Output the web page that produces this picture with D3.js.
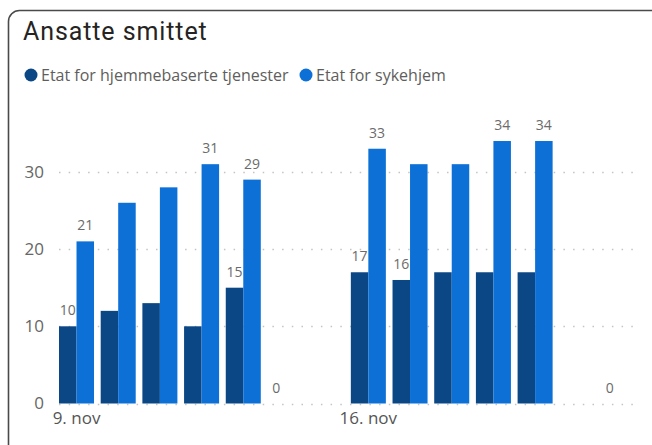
<!DOCTYPE html>
<html>
<head>
<meta charset="utf-8">
<script src="https://cdn.jsdelivr.net/npm/d3@7"></script>
<style>
  body { margin: 0; background: #fff; }
  svg { display: block; }
</style>
</head>
<body>
<div id="chart"></div>
<script>

// Data
var dates = ["2020-11-09", "2020-11-10", "2020-11-11", "2020-11-12", "2020-11-13", "2020-11-14", "2020-11-15",
	"2020-11-16", "2020-11-17", "2020-11-18", "2020-11-19", "2020-11-20", "2020-11-21", "2020-11-22"]

var hjemme = [10, 12, 13, 10, 15, 0, null, 17, 16, 17, 17, 17, null, 0]

var sykehjem = [21, 26, 28, 31, 29, 0, null, 33, 31, 31, 34, 34, null, 0]

// which data labels Power BI kept visible
var hjemmeLabel = [1, 0, 0, 0, 1, 1, 0, 1, 1, 0, 0, 0, 0, 1]

var sykehjemLabel = [1, 0, 0, 1, 1, 0, 0, 1, 0, 0, 1, 1, 0, 0]

var seriesNames = ["Etat for hjemmebaserte tjenester", "Etat for sykehjem"]

var yTicks = [0, 10, 20, 30]

var xTickDates = ["2020-11-09", "2020-11-16"]

var xTickLabels = ["9. nov", "16. nov"]

var colors = ["#0a4784", "#0c70d7"]

var width = 652

var height = 445

var svg = d3.select("#chart")
	.append("svg")
	.attr("width", width)
	.attr("height", height)

svg.append("rect")
	.attr("width", width)
	.attr("height", height)
	.attr("fill", "#fff")

// card border, cut off at the right and bottom
svg.append("rect")
	.attr("x", 8.5)
	.attr("y", 10.5)
	.attr("width", 680)
	.attr("height", 470)
	.attr("rx", 11)
	.attr("fill", "#fff")
	.attr("stroke", "#4a4a4a")
	.attr("stroke-width", 1.6)

svg.append("text")
	.attr("x", 23)
	.attr("y", 40)
	.attr("font-family", "Roboto, sans-serif")
	.attr("font-size", 25)
	.attr("letter-spacing", 0.9)
	.attr("fill", "#252423")
	.text("Ansatte smittet")

// legend
var legendX = [31, 306]

var legend = svg.append("g")
	.selectAll("g")
	.data(seriesNames)
	.join("g")
	.attr("transform", (d, i) => `translate(${legendX[i]},75)`)

legend.append("circle")
	.attr("r", 6.5)
	.attr("fill", (d, i) => colors[i])

legend.append("text")
	.attr("x", 10)
	.attr("y", 5.5)
	.attr("font-family", "'Open Sans', sans-serif")
	.attr("font-size", 16)
	.attr("fill", "#605e5c")
	.text(d => d)

var x = d3.scaleBand()
	.domain(dates)
	.range([59, 636])
	.paddingInner(0.16)
	.paddingOuter(0)

var xSub = d3.scaleBand()
	.domain([0, 1])
	.range([0, x.bandwidth()])

var y = d3.scaleLinear()
	.domain([0, 40])
	.range([403.5, 94.7])

// dotted gridlines
svg.append("g")
	.selectAll("line")
	.data(yTicks)
	.join("line")
	.attr("x1", 59)
	.attr("x2", 635)
	.attr("y1", d => Math.round(y(d)) + 0.5)
	.attr("y2", d => Math.round(y(d)) + 0.5)
	.attr("stroke", "#c4c4c4")
	.attr("stroke-width", 1.5)
	.style("stroke-dasharray", ("1.5, 8.2"))

var yAxis = svg.append("g")
	.attr("transform", "translate(44,0)")
	.call(d3.axisLeft(y).tickValues(yTicks).tickSize(0).tickPadding(0))

yAxis.select(".domain").remove()

yAxis.selectAll("text")
	.attr("font-family", "'Open Sans', sans-serif")
	.attr("font-size", 17)
	.attr("fill", "#666")

var xAxis = svg.append("g")
	.attr("transform", "translate(0,412)")
	.call(d3.axisBottom(x).tickValues(xTickDates).tickSize(0).tickPadding(0)
		.tickFormat((d, i) => xTickLabels[i]))

xAxis.select(".domain").remove()

xAxis.selectAll("text")
	.attr("font-family", "'Open Sans', sans-serif")
	.attr("font-size", 17)
	.attr("fill", "#555")

// build rows for the bars
var series = [hjemme, sykehjem]

var labels = [hjemmeLabel, sykehjemLabel]

var rows = []

series.forEach((values, s) => {
	values.forEach((v, i) => {
		if (v != null) rows.push({ date: dates[i], value: v, s: s, label: labels[s][i] })
	})
})

svg.append("g")
	.selectAll("rect")
	.data(rows)
	.join("rect")
	.attr("x", d => x(d.date) + xSub(d.s))
	.attr("width", xSub.bandwidth())
	.attr("y", d => y(d.value))
	.attr("height", d => y(0) - y(d.value))
	.attr("fill", d => colors[d.s])

svg.append("g")
	.attr("font-family", "'Open Sans', sans-serif")
	.attr("font-size", 14)
	.attr("fill", "#6b6b6b")
	.attr("text-anchor", "middle")
	.selectAll("text")
	.data(rows.filter(d => d.label))
	.join("text")
	.attr("x", d => x(d.date) + xSub(d.s) + xSub.bandwidth() / 2)
	.attr("y", d => y(d.value) - 11)
	.text(d => d.value)

</script>
</body>
</html>
